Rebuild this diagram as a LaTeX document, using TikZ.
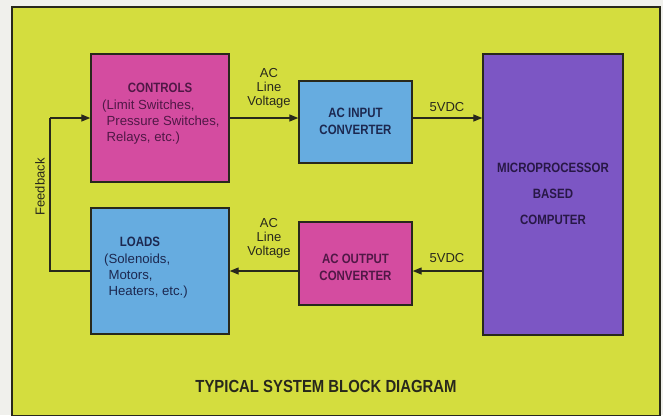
\documentclass[tikz,border=0pt]{standalone}
\usepackage{fontspec}
\setmainfont{Liberation Sans}
\newfontfamily\cond[FakeStretch=0.85]{Liberation Sans}
\usetikzlibrary{arrows.meta}
\definecolor{bgout}{RGB}{240,240,236}
\definecolor{ylw}{RGB}{212,221,62}
\definecolor{mag}{RGB}{212,76,160}
\definecolor{blu}{RGB}{102,172,224}
\definecolor{pur}{RGB}{124,86,196}
\definecolor{ink}{RGB}{40,40,28}
\definecolor{magink}{RGB}{80,24,70}
\definecolor{bluink}{RGB}{28,40,80}
\definecolor{purink}{RGB}{40,24,70}
\tikzset{
  blk/.style={draw=ink, line width=1.4pt, inner sep=0pt},
  conn/.style={draw=ink, line width=1.3pt, -{Triangle[length=9pt,width=7pt]}},
  plain/.style={draw=ink, line width=1.3pt},
  lbl/.style={font=\fontsize{13}{14}\selectfont, text=ink, align=center, inner sep=0pt},
  head/.style={font=\cond\bfseries\fontsize{13.5}{17}\selectfont, align=center, inner sep=0pt},
  body/.style={font=\fontsize{13.2}{15.8}\selectfont, align=left, inner sep=0pt},
}
\begin{document}
\begin{tikzpicture}[x=1pt,y=-1pt]
\useasboundingbox (0,0) rectangle (663,415);
\fill[bgout] (0,0) rectangle (663,415);
\draw[fill=ylw, draw=ink, line width=1.4pt] (12,7) rectangle (660,416);

% blocks
\node[blk, fill=mag, minimum width=138pt, minimum height=128pt] (ctrl) at (160,118) {};
\node[blk, fill=blu, minimum width=138pt, minimum height=126pt] (load) at (160,271) {};
\node[blk, fill=blu, minimum width=113pt, minimum height=82pt] (acin) at (355.5,122) {};
\node[blk, fill=mag, minimum width=113pt, minimum height=83pt] (acout) at (355.5,263.5) {};
\node[blk, fill=pur, minimum width=140pt, minimum height=281pt] (micro) at (553,194.5) {};

% block texts
\node[head, text=magink] (ctrlh) at (160,88) {CONTROLS};
\node[body, text=magink, anchor=north west] (ctrlb) at (102,100) {(Limit Switches,\\\hphantom{(}Pressure Switches,\\\hphantom{(}Relays, etc.)};
\node[head, text=bluink] (loadh) at (140,242) {LOADS};
\node[body, text=bluink, anchor=north west] (loadb) at (104,254) {(Solenoids,\\\hphantom{(}Motors,\\\hphantom{(}Heaters, etc.)};
\node[head, text=bluink] (acint) at (355.5,121.5) {AC INPUT\\CONVERTER};
\node[head, text=magink] (acoutt) at (355.5,267.5) {AC OUTPUT\\CONVERTER};
\node[head, text=purink, font=\cond\bfseries\fontsize{13.5}{26}\selectfont] (microt) at (553,194) {MICROPROCESSOR\\BASED\\COMPUTER};

% connectors
\coordinate (fbb) at (50,271);
\coordinate (fbt) at (50,118);
\draw[conn] (ctrl.east |- 0,118) -- (acin.west |- 0,118);
\draw[conn] (acin.east |- 0,118) -- (micro.west |- 0,118);
\draw[conn] (micro.west |- 0,271) -- (acout.east |- 0,271);
\draw[conn] (acout.west |- 0,271) -- (load.east |- 0,271);
\draw[plain] (load.west |- 0,271) -- (fbb) -- (fbt);
\draw[conn] (fbt) -- (ctrl.west |- 0,118);

% labels
\node[lbl] (acl1) at (269,88) {AC\\Line\\Voltage};
\node[lbl] (acl2) at (269,238) {AC\\Line\\Voltage};
\node[lbl] (v1) at (447,107) {5VDC};
\node[lbl] (v2) at (447,258) {5VDC};
\node[lbl, rotate=90] (fb) at (40,187) {Feedback};

\node[font=\cond\bfseries\fontsize{17.5}{20}\selectfont, text=ink, inner sep=0pt] (cap) at (326,386) {TYPICAL SYSTEM BLOCK DIAGRAM};
\end{tikzpicture}
\end{document}
